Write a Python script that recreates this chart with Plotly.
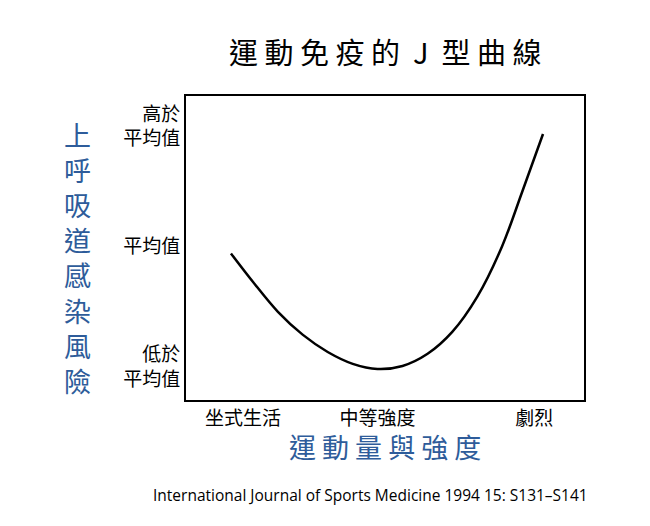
import plotly.graph_objects as go

curve_x = [1.13, 1.68, 2.31, 2.93, 3.56, 4.19, 4.81, 5.44, 6.07, 6.69, 7.32, 7.94, 8.45, 8.97]
curve_y = [4.82, 3.89, 2.90, 2.15, 1.58, 1.19, 1.02, 1.12, 1.52, 2.24, 3.40, 5.05, 6.86, 8.75]
x_tick_vals = [1.43, 4.81, 8.75]
x_tick_text = ["坐式生活", "中等強度", "劇烈"]
y_tick_vals = [1.09, 5.05, 9.0]
y_tick_text = ["低於<br>平均值", "平均值", "高於<br>平均值"]
y_title = "上呼吸道感染風險"
x_title = "運動量與強度"
citation = "International Journal of Sports Medicine 1994 15: S131–S141"

font = "Noto Sans CJK TC"
blue = "#2E5C9A"
fig = go.Figure(go.Scatter(x=curve_x, y=curve_y, mode="lines", line=dict(color="black", width=2.5, shape="spline")))
fig.update_layout(
    width=650, height=526, margin=dict(l=178, r=74, t=88, b=134),
    paper_bgcolor="white", plot_bgcolor="white", showlegend=False,
    font=dict(family=font, color="black"),
    xaxis=dict(range=[0, 10], tickvals=x_tick_vals, ticktext=x_tick_text, ticks="", showgrid=False, zeroline=False,
               showline=True, linecolor="black", linewidth=2, mirror=True, tickfont=dict(size=19)),
    yaxis=dict(range=[0, 10], tickvals=y_tick_vals, ticktext=y_tick_text, ticks="", showgrid=False, zeroline=False,
               showline=True, linecolor="black", linewidth=2, mirror=True, tickfont=dict(size=19)),
)
fig.add_annotation(text=" ".join("運動免疫的") + "  J  " + " ".join("型曲線"), xref="paper", yref="paper",
                   x=0.5, y=1, yshift=68, showarrow=False, font=dict(size=29, color="black"))
fig.add_annotation(text="<br>".join(y_title), xref="paper", yref="paper", x=0, xshift=-124, y=0.47,
                   showarrow=False, font=dict(size=27, color=blue))
fig.add_annotation(text=" ".join(x_title), xref="paper", yref="paper", x=0.5, y=0, yshift=-68,
                   showarrow=False, font=dict(size=27, color=blue))
fig.add_annotation(text=citation, xref="paper", yref="paper", x=0.5, xshift=-15, y=0, yshift=-108,
                   showarrow=False, font=dict(size=15.5, color="black", family="Open Sans"))
fig.write_html("out.html")
